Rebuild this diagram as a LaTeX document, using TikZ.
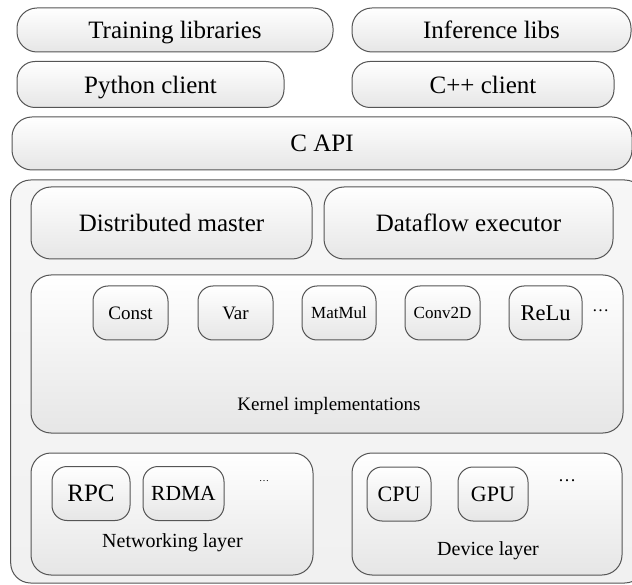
\documentclass[tikz,border=0pt]{standalone}
\usepackage{fontspec}
\setmainfont{Liberation Serif}
\usetikzlibrary{positioning}
\definecolor{edge}{HTML}{555555}
\definecolor{shade}{HTML}{E6E6E6}
\definecolor{backg}{HTML}{F1F1F1}
\newcommand{\fs}[1]{\fontsize{#1}{1.2\dimexpr#1pt\relax}\selectfont}
\tikzset{
  blk/.style={rectangle, rounded corners=#1, draw=edge, line width=1pt,
              top color=white, bottom color=shade, inner sep=0pt, text depth=0pt, font=\fs{25}},
  blk/.default=20pt,
  op/.style={blk=15pt, minimum width=#1, minimum height=54pt, font=\fs{19}},
  op/.default=75pt,
  lbl/.style={font=\fs{20}, text depth=0pt},
  dots/.style={font=\fs{#1}},
}

\begin{document}
\begin{tikzpicture}[x=1pt,y=-1pt]
  \useasboundingbox (0,0) rectangle (632,585);
  % client side
  \node[blk, minimum width=316pt, minimum height=44pt] (train) at (175,30) {Training libraries};
  \node[blk, minimum width=279pt, minimum height=44pt] (infer) at (491.5,30) {Inference libs};
  \node[blk=18pt, minimum width=267pt, minimum height=46pt] (py) at (150.5,84.5) {Python client};
  \node[blk=18pt, minimum width=262pt, minimum height=46pt] (cpp) at (483,84.5) {C++ client};
  \node[blk, minimum width=620pt, minimum height=53pt] (capi) at (322,143.5) {C API};

  % runtime core
  \node[blk, top color=backg!60, bottom color=backg, minimum width=634pt, minimum height=403pt] (core) at (327.7,381.5) {};
  \node[blk, minimum width=281pt, minimum height=72pt] (master) at (171.5,223) {Distributed master};
  \node[blk, minimum width=289pt, minimum height=72pt] (exec) at (468.5,223) {Dataflow executor};

  % kernels
  \node[blk, minimum width=592pt, minimum height=158pt] (kern) at (327,354) {};
  \node[op] (const) at (130.5,313) {Const};
  \node[op, right=29pt of const] (var) {Var};
  \node[op=74pt, right=28pt of var, font=\fs{17}] (matmul) {MatMul};
  \node[op, right=28pt of matmul, font=\fs{17}] (conv) {Conv2D};
  \node[op=73pt, right=28pt of conv, font=\fs{22.5}] (relu) {ReLu};
  \node[dots=17, right=6pt of relu, yshift=2pt] (kdots) {\dots};
  \node[lbl, font=\fs{19}] (kname) at (329,404) {Kernel implementations};

  % networking and devices
  \node[blk, minimum width=282pt, minimum height=122pt] (net) at (172,514) {};
  \node[op=78pt, font=\fs{25}] (rpc) at (91,493.5) {RPC};
  \node[op=81pt, font=\fs{21.5}] (rdma) at (183.5,493.5) {RDMA};
  \node[dots=10] (ndots) at (264,481) {\dots};
  \node[lbl] (nname) at (172.5,541) {Networking layer};

  \node[blk, minimum width=270pt, minimum height=122pt] (dev) at (487,514) {};
  \node[op=64pt, font=\fs{22}] (cpu) at (399,494) {CPU};
  \node[op=70pt, font=\fs{22}] (gpu) at (493,494) {GPU};
  \node[dots=18] (ddots) at (567,481) {\dots};
  \node[lbl] (dname) at (488,549) {Device layer};
\end{tikzpicture}
\end{document}
